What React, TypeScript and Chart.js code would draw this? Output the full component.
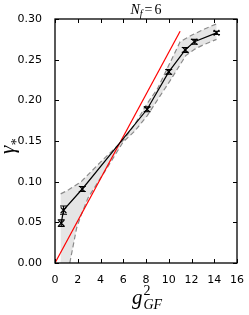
import React, { useEffect, useRef } from 'react';
import { Chart, registerables } from 'chart.js';

Chart.register(...registerables);

// Data
const gfX = [0.55, 0.75, 2.4, 8.1, 10.0, 11.45, 12.25, 14.2];
const gammaY = [0.049, 0.065, 0.091, 0.189, 0.235, 0.262, 0.272, 0.283];
const gammaErr = [0.004, 0.005, 0.003, 0.003, 0.003, 0.003, 0.003, 0.002];

const upperX = [0.5, 1.2, 2.3, 4.0, 6.0, 7.0, 8.1, 9.0, 10.0, 11.0, 12.0, 13.2, 14.2];
const upperY = [0.085, 0.09, 0.1, 0.124, 0.151, 0.17, 0.196, 0.214, 0.243, 0.272, 0.28, 0.288, 0.294];

const lowerX = [1.3, 1.9, 2.3, 2.9, 4.4, 6.0, 7.0, 8.1, 10.2, 11.5, 12.3, 13.0, 14.2];
const lowerY = [0.0, 0.043, 0.059, 0.08, 0.113, 0.149, 0.162, 0.181, 0.226, 0.255, 0.263, 0.268, 0.275];

const bandBottomX = [0.5];
const bandBottomY = [0.0];

const redX = [0, 11.0];
const redY = [0, 0.285];

const xTicks = [0, 2, 4, 6, 8, 10, 12, 14, 16];
const yTicks = [0, 0.05, 0.1, 0.15, 0.2, 0.25, 0.3];

const pts = (xs: number[], ys: number[]) => xs.map((x, i) => ({ x, y: ys[i] }));

const bandPoly = [
  ...pts(upperX, upperY),
  ...pts(lowerX, lowerY).reverse(),
  ...pts(bandBottomX, bandBottomY),
];

const TICK_FONT = '"DejaVu Sans", sans-serif';
const MATH_FONT = '"Liberation Serif", "DejaVu Serif", serif';

const framePlugin = {
  id: 'frameAndErrors',
  afterDatasetsDraw(chart: any) {
    const { ctx, chartArea: a, scales } = chart;
    const xs = scales.x;
    const ys = scales.y;
    ctx.save();
    // error bars
    ctx.strokeStyle = '#000';
    ctx.lineWidth = 1.1;
    gfX.forEach((x, i) => {
      const px = xs.getPixelForValue(x);
      const top = ys.getPixelForValue(gammaY[i] + gammaErr[i]);
      const bot = ys.getPixelForValue(gammaY[i] - gammaErr[i]);
      ctx.beginPath();
      ctx.moveTo(px, top);
      ctx.lineTo(px, bot);
      ctx.moveTo(px - 3.5, top);
      ctx.lineTo(px + 3.5, top);
      ctx.moveTo(px - 3.5, bot);
      ctx.lineTo(px + 3.5, bot);
      ctx.stroke();
    });
    // frame
    ctx.lineWidth = 1.3;
    ctx.strokeRect(a.left, a.top, a.right - a.left, a.bottom - a.top);
    // inward ticks
    ctx.lineWidth = 1;
    ctx.beginPath();
    xTicks.forEach((v) => {
      const p = Math.round(xs.getPixelForValue(v)) + 0.5;
      ctx.moveTo(p, a.bottom);
      ctx.lineTo(p, a.bottom - 4);
      ctx.moveTo(p, a.top);
      ctx.lineTo(p, a.top + 4);
    });
    yTicks.forEach((v) => {
      const p = Math.round(ys.getPixelForValue(v)) + 0.5;
      ctx.moveTo(a.left, p);
      ctx.lineTo(a.left + 4, p);
      ctx.moveTo(a.right, p);
      ctx.lineTo(a.right - 4, p);
    });
    ctx.stroke();
    ctx.restore();
  },
  afterDraw(chart: any) {
    const { ctx, chartArea: a } = chart;
    const cx = (a.left + a.right) / 2;
    ctx.save();
    ctx.fillStyle = '#000';
    ctx.textBaseline = 'alphabetic';
    ctx.textAlign = 'left';

    // Title: N_f = 6
    const big = 'italic 14px ' + MATH_FONT;
    const sub = 'italic 10px ' + MATH_FONT;
    const norm = '14px ' + MATH_FONT;
    ctx.font = big;
    const wN = ctx.measureText('N').width;
    ctx.font = sub;
    const wf = ctx.measureText('f').width;
    ctx.font = norm;
    const wEq = ctx.measureText('=').width;
    const w6 = ctx.measureText('6').width;
    const total = wN + wf + 2 + wEq + 2 + w6;
    let x = cx - total / 2;
    const tb = 14;
    ctx.font = big;
    ctx.fillText('N', x, tb);
    x += wN;
    ctx.font = sub;
    ctx.fillText('f', x, tb + 3);
    x += wf + 2;
    ctx.font = norm;
    ctx.fillText('=', x, tb);
    x += wEq + 2;
    ctx.fillText('6', x, tb);

    // X label: g^2_GF
    const gFont = 'italic 21px ' + MATH_FONT;
    const supFont = '14px ' + MATH_FONT;
    const subFont = 'italic 14px ' + MATH_FONT;
    ctx.font = gFont;
    const wg = ctx.measureText('g').width;
    ctx.font = subFont;
    const wGF = ctx.measureText('GF').width;
    const xl = cx - (wg + 1 + wGF) / 2 + 1;
    ctx.font = gFont;
    ctx.fillText('g', xl, 304);
    ctx.font = supFont;
    ctx.fillText('2', xl + wg + 1, 295);
    ctx.font = subFont;
    ctx.fillText('GF', xl + wg + 1, 309);

    // Y label: gamma_*
    ctx.save();
    ctx.translate(14, 154);
    ctx.rotate(-Math.PI / 2);
    ctx.font = 'italic 21px ' + MATH_FONT;
    ctx.fillText('\u03b3', 0, 0);
    const wgam = ctx.measureText('\u03b3').width;
    ctx.font = '14px ' + MATH_FONT;
    ctx.fillText('*', wgam + 0.5, 7);
    ctx.restore();

    ctx.restore();
  },
};

export default function App() {
  const ref = useRef<HTMLCanvasElement | null>(null);
  useEffect(() => {
    if (!ref.current) return;
    const chart = new Chart(ref.current, {
      type: 'scatter',
      data: {
        datasets: [
          {
            label: 'band',
            data: bandPoly,
            showLine: true,
            fill: 'shape',
            backgroundColor: 'rgba(0,0,0,0.1)',
            borderWidth: 0,
            borderColor: 'rgba(0,0,0,0)',
            pointRadius: 0,
            order: 5,
          } as any,
          {
            label: 'upper',
            data: pts(upperX, upperY),
            showLine: true,
            borderColor: '#8a8a8a',
            borderWidth: 1.2,
            borderDash: [5, 3],
            pointRadius: 0,
            order: 4,
          },
          {
            label: 'lower',
            data: pts(lowerX, lowerY),
            showLine: true,
            borderColor: '#8a8a8a',
            borderWidth: 1.2,
            borderDash: [5, 3],
            pointRadius: 0,
            order: 3,
          },
          {
            label: 'fit',
            data: pts(redX, redY),
            showLine: true,
            borderColor: '#ff0000',
            borderWidth: 1.2,
            pointRadius: 0,
            order: 2,
          },
          {
            label: 'gamma',
            data: pts(gfX, gammaY),
            showLine: true,
            borderColor: '#000',
            borderWidth: 1.2,
            pointStyle: 'crossRot',
            pointRadius: 4,
            pointBorderColor: '#000',
            pointBorderWidth: 1.2,
            order: 1,
          },
        ],
      },
      options: {
        animation: false,
        responsive: false,
        devicePixelRatio: 1,
        layout: { padding: { top: 19, right: 12, left: 0, bottom: 0 } },
        plugins: {
          legend: { display: false },
          tooltip: { enabled: false },
          title: { display: false },
        },
        scales: {
          x: {
            type: 'linear',
            min: 0,
            max: 16,
            grid: { display: false },
            border: { display: false },
            ticks: {
              color: '#000',
              font: { family: TICK_FONT, size: 11 },
              padding: 3,
              maxRotation: 0,
            },
            afterBuildTicks: (s: any) => {
              s.ticks = xTicks.map((v) => ({ value: v }));
            },
            afterFit: (s: any) => {
              s.height = 52;
            },
          },
          y: {
            type: 'linear',
            min: 0,
            max: 0.3,
            grid: { display: false },
            border: { display: false },
            ticks: {
              color: '#000',
              font: { family: TICK_FONT, size: 11 },
              padding: 5,
              callback: (v: any) => Number(v).toFixed(2),
            },
            afterBuildTicks: (s: any) => {
              s.ticks = yTicks.map((v) => ({ value: v }));
            },
            afterFit: (s: any) => {
              s.width = 55;
            },
          },
        },
      },
      plugins: [framePlugin],
    });
    return () => chart.destroy();
  }, []);
  return (
    <div style={{ position: 'fixed', left: 0, top: 0, width: 249, height: 315, background: '#fff' }}>
      <canvas ref={ref} width={249} height={315} style={{ width: 249, height: 315 }} />
    </div>
  );
}
